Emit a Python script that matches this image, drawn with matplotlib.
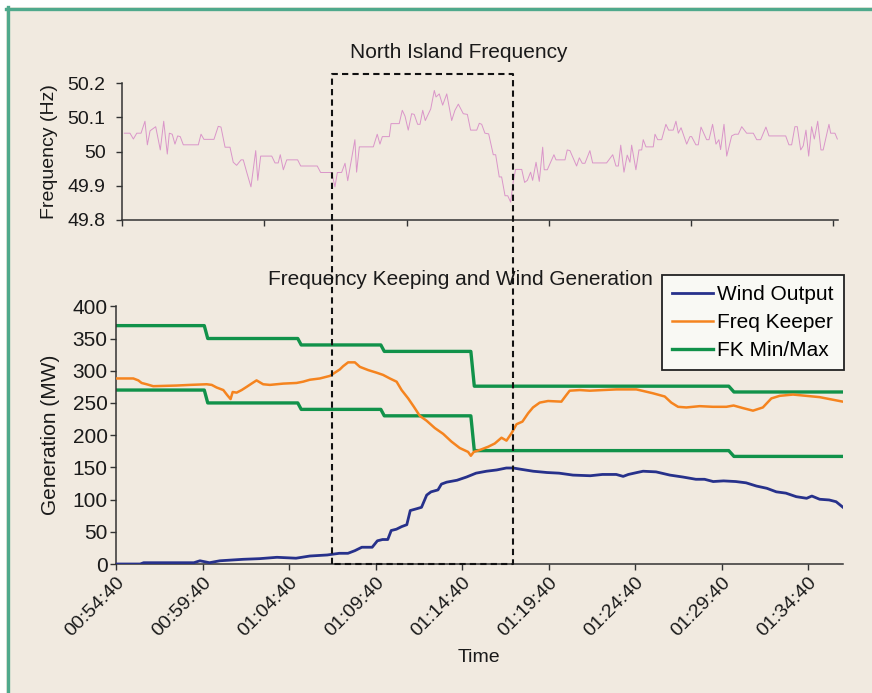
import numpy as np
import matplotlib
matplotlib.use("Agg")
import matplotlib.pyplot as plt
from matplotlib.lines import Line2D
from matplotlib.patches import Rectangle

plt.rcParams['font.family'] = ['Liberation Sans', 'DejaVu Sans']

# time axis: minutes after 00:54:40
time_labels = ["00:54:40", "00:59:40", "01:04:40", "01:09:40", "01:14:40",
               "01:19:40", "01:24:40", "01:29:40", "01:34:40"]

# North Island frequency (Hz)
freq_t = [0.12, 0.45, 0.65, 0.85, 1.10, 1.33, 1.47, 1.63, 1.96, 2.23, 2.43, 2.64, 2.76, 2.93,
          3.09, 3.25, 3.40, 3.58, 4.46, 4.62, 4.79, 5.38, 5.63, 5.79, 6.03, 6.32, 6.51, 6.71,
          6.97, 7.10, 7.30, 7.55, 7.83, 7.95, 8.12, 8.77, 8.96, 9.15, 9.27, 9.45, 9.65, 10.29,
          10.47, 11.44, 11.64, 12.29, 12.48, 12.62, 12.87, 13.07, 13.23, 13.65, 13.75, 13.91,
          14.73, 14.96, 15.12, 15.26, 15.67, 15.77, 16.25, 16.43, 16.59, 16.78, 16.98, 17.13,
          17.33, 17.47, 17.63, 17.78, 18.10, 18.31, 18.41, 18.60, 18.80, 19.04, 19.33, 19.52,
          19.72, 20.01, 20.25, 20.44, 20.80, 20.95, 21.09, 21.28, 21.50, 21.77, 21.91, 22.12,
          22.26, 22.46, 22.62, 22.79, 22.94, 23.08, 23.44, 23.61, 23.77, 23.96, 24.08, 24.28,
          24.47, 24.67, 24.76, 24.94, 25.33, 25.45, 25.98, 26.11, 26.27, 26.66, 26.82, 26.99,
          27.15, 27.44, 27.60, 28.42, 28.78, 28.97, 29.11, 29.25, 29.44, 29.63, 29.79, 29.89,
          30.14, 30.32, 30.48, 30.57, 30.73, 31.16, 31.26, 31.42, 31.65, 31.90, 32.06, 32.33,
          32.49, 32.63, 32.79, 33.12, 33.31, 33.41, 33.66, 33.80, 33.96, 34.29, 34.43, 34.64,
          34.84, 35.01, 35.11, 35.31, 35.47, 35.76, 35.95, 36.15, 36.35, 36.64, 37.03, 37.23,
          37.46, 37.77, 37.95, 38.93, 39.12, 39.28, 39.47, 39.61, 39.81, 39.96, 40.12, 40.28,
          40.45, 40.61, 40.81, 41.00, 41.13, 41.47, 41.57, 41.82, 41.96]
freq_hz = [50.054, 50.054, 50.037, 50.054, 50.054, 50.089, 50.020, 50.061, 50.073, 50.005,
           50.089, 49.993, 50.054, 50.051, 50.022, 50.046, 50.044, 50.020, 50.020, 50.051,
           50.036, 50.036, 50.074, 50.072, 50.013, 50.013, 49.969, 49.960, 49.976, 49.976,
           49.940, 49.897, 50.003, 49.916, 49.987, 49.987, 49.967, 49.967, 49.991, 49.947,
           49.976, 49.976, 49.958, 49.958, 49.939, 49.939, 49.897, 49.939, 49.939, 49.966,
           49.915, 50.035, 49.940, 50.014, 50.014, 50.051, 50.022, 50.044, 50.044, 50.082,
           50.082, 50.121, 50.104, 50.063, 50.111, 50.109, 50.080, 50.080, 50.121, 50.091,
           50.125, 50.179, 50.160, 50.169, 50.136, 50.169, 50.091, 50.121, 50.139, 50.111,
           50.109, 50.063, 50.063, 50.083, 50.080, 50.054, 50.052, 49.991, 49.991, 49.926,
           49.926, 49.871, 49.871, 49.852, 49.912, 49.948, 49.948, 49.910, 49.916, 49.940,
           49.916, 49.969, 49.913, 50.013, 49.947, 49.947, 49.991, 49.976, 49.976, 50.005,
           50.003, 49.958, 49.982, 49.966, 49.966, 50.003, 49.967, 49.967, 49.991, 49.958,
           49.958, 50.019, 49.940, 49.990, 49.969, 50.019, 49.947, 50.005, 50.005, 50.035,
           50.014, 50.014, 50.051, 50.035, 50.035, 50.080, 50.063, 50.063, 50.089, 50.054,
           50.070, 50.022, 50.044, 50.044, 50.020, 50.020, 50.072, 50.035, 50.035, 50.080,
           50.022, 50.035, 50.006, 50.080, 49.987, 50.046, 50.051, 50.051, 50.073, 50.054,
           50.054, 50.035, 50.035, 50.072, 50.046, 50.046, 50.020, 50.020, 50.073, 50.073,
           50.005, 50.017, 50.063, 49.987, 50.073, 50.037, 50.089, 50.005, 50.005, 50.080,
           50.054, 50.054, 50.037]

# Wind output (MW)
wind_t = [0.0, 1.4, 1.6, 4.5, 4.85, 5.4, 6.0, 7.35, 8.3, 9.3, 10.4, 11.2, 12.2, 12.9, 13.4,
          13.8, 14.2, 14.8, 15.1, 15.4, 15.7, 15.9, 16.2, 16.5, 16.8, 17.0, 17.4, 17.65, 17.95,
          18.2, 18.6, 18.8, 19.1, 19.7, 20.25, 20.8, 21.4, 22.0, 22.55, 22.95, 23.4, 24.1,
          24.9, 25.6, 26.4, 27.4, 28.1, 28.9, 29.3, 29.6, 30.1, 30.45, 31.2, 32.0, 32.75,
          33.5, 34.0, 34.5, 35.1, 35.8, 36.4, 37.0, 37.6, 38.15, 38.7, 39.3, 39.9, 40.2,
          40.65, 41.2, 41.6, 42.0]
wind_mw = [0, 0, 2, 2, 5, 2, 5, 7.3, 8.3, 10.4, 9, 12.4, 14, 16.6, 16.6, 20.7, 26, 26, 36,
           38, 38, 52, 54, 58, 61, 83, 86, 88, 107, 112, 115, 124, 127, 130, 135, 141, 144,
           146, 149, 149, 147, 144, 142, 141, 138, 137, 139, 139, 136, 139, 142, 144, 143,
           138, 135, 131.5, 131.5, 128, 129, 128, 126, 121, 117.5, 112, 110, 104.5, 102,
           105.5, 100.5, 99.4, 96.7, 88]

# Frequency keeper generation (MW)
fk_t = [0.0, 1.0, 1.29, 1.48, 1.77, 2.15, 3.5, 4.27, 5.24, 5.53, 5.81, 6.2, 6.43, 6.62,
        6.74, 6.97, 7.26, 7.55, 7.83, 8.12, 8.5, 8.89, 9.66, 10.43, 10.81, 11.2, 11.78,
        12.36, 12.93, 13.12, 13.41, 13.8, 14.09, 14.57, 15.05, 15.43, 15.82, 16.21, 16.5,
        16.88, 17.21, 17.55, 17.94, 18.42, 18.9, 19.38, 19.86, 20.34, 20.5, 20.67, 21.02,
        21.5, 21.88, 22.27, 22.56, 22.85, 23.14, 23.48, 23.81, 24.09, 24.48, 24.96, 25.73,
        25.98, 26.21, 26.79, 27.37, 28.13, 28.91, 30.06, 30.45, 31.02, 31.7, 32.08, 32.47,
        32.95, 33.72, 34.49, 35.26, 35.68, 36.22, 36.8, 37.37, 37.86, 38.34, 39.11, 39.88,
        40.65, 41.22, 41.99]
fk_mw = [288, 288, 285, 281, 279, 276, 277, 278, 279, 278, 274, 270, 262, 256, 267, 266,
         270, 275, 280, 285, 279, 278, 280, 281, 283, 286, 288, 292, 302, 307, 313, 313,
         306, 301, 297, 293.5, 288, 283, 270, 257, 244, 230, 222.5, 211, 202, 190, 180,
         174, 168, 174, 177, 182, 187, 196, 191.5, 203, 217, 221, 234, 243, 250.5, 253,
         252, 261, 269, 270, 269, 270, 271, 271, 268.6, 265, 260, 250.5, 244, 243, 245,
         244, 244, 246, 242, 238, 243, 257, 261, 263, 261, 259, 256, 252]

# FK min / max band (MW)
band_t = [0.0, 5.1, 5.3, 10.5, 10.7, 15.3, 15.5, 20.5, 20.7, 35.4, 35.7, 42.0]
band_min = [270, 270, 250, 250, 240, 240, 230, 230, 176, 176, 167, 167]
band_max = [370, 370, 350, 350, 340, 340, 330, 330, 276, 276, 267, 267]

# highlighted window (minutes) and its top (Hz)
window_t = [12.49, 22.94]
window_top = 50.2285

W, H = 872, 693
fig = plt.figure(figsize=(W / 100, H / 100), dpi=100, facecolor='white')

bg = '#F1EAE0'
teal = '#4FA98C'
fig.add_artist(Rectangle((6 / W, 0), 1, 1 - 7 / H, transform=fig.transFigure,
                         facecolor=bg, edgecolor='none', zorder=-10))
fig.add_artist(Line2D([7.5 / W, 7.5 / W], [0, 1 - 7 / H], transform=fig.transFigure,
                      color=teal, lw=2.4, zorder=-5))
fig.add_artist(Line2D([6 / W, 1], [1 - 8.5 / H, 1 - 8.5 / H], transform=fig.transFigure,
                      color=teal, lw=2.4, zorder=-5))

axis_col = '#333333'
text_col = '#1a1a1a'


def style(ax):
    ax.set_facecolor('none')
    for s in ['top', 'right']:
        ax.spines[s].set_visible(False)
    for s in ['left', 'bottom']:
        ax.spines[s].set_color(axis_col)
        ax.spines[s].set_linewidth(1.1)
    ax.tick_params(direction='out', length=4, width=1.0, color=axis_col,
                   labelcolor=text_col)


# top panel: frequency
ax1 = fig.add_axes([122.3 / W, 1 - 220 / H, (838 - 122.3) / W, (220 - 83.3) / H])
style(ax1)
ax1.plot(freq_t, freq_hz, color='#DA95C9', lw=0.7)
ax1.set_xlim(0, 42)
ax1.set_ylim(49.8, 50.2)
ax1.set_yticks([49.8, 49.9, 50.0, 50.1, 50.2])
ax1.set_yticklabels(['49.8', '49.9', '50', '50.1', '50.2'])
ax1.set_xticks(np.linspace(0, 41.72, 6))
ax1.set_xticklabels([])
ax1.tick_params(axis='y', labelsize=14, pad=8)
ax1.set_ylabel('Frequency (Hz)', fontsize=14, color=text_col)
ax1.yaxis.set_label_coords(-0.09, 0.5)

# bottom panel: generation
ax2 = fig.add_axes([116 / W, 1 - 564 / H, (843 - 116) / W, (564 - 306.3) / H])
style(ax2)
ax2.plot(band_t, band_min, color='#11924A', lw=2.4, label='FK Min/Max', zorder=2)
ax2.plot(band_t, band_max, color='#11924A', lw=2.4, label='_nolegend_', zorder=2)
ax2.plot(fk_t, fk_mw, color='#F5841F', lw=1.8, label='Freq Keeper', zorder=3)
ax2.plot(wind_t, wind_mw, color='#27318B', lw=2.0, label='Wind Output', zorder=4)
ax2.set_xlim(0, 42)
ax2.set_ylim(0, 400)
ax2.set_yticks(range(0, 401, 50))
ax2.set_xticks(np.arange(len(time_labels)) * 5)
ax2.set_xticklabels(time_labels, rotation=45, ha='right', rotation_mode='anchor')
ax2.tick_params(axis='y', labelsize=15, pad=2)
ax2.tick_params(axis='x', labelsize=14, pad=3)
ax2.set_ylabel('Generation (MW)', fontsize=15, color=text_col)
ax2.yaxis.set_label_coords(-0.077, 0.5)
ax2.set_xlabel('Time', fontsize=14, color=text_col)
ax2.xaxis.set_label_coords((479 - 116) / (843 - 116), -(649 - 564) / (564 - 306.3))

h, l = ax2.get_legend_handles_labels()
order = [l.index('Wind Output'), l.index('Freq Keeper'), l.index('FK Min/Max')]
leg = ax2.legend([h[i] for i in order], [l[i] for i in order], loc='upper left',
                 bbox_to_anchor=(662 / W, 1 - 275 / H), bbox_transform=fig.transFigure,
                 borderaxespad=0, fontsize=15, frameon=True, fancybox=False,
                 edgecolor='#222222', facecolor='#F9F9F4', framealpha=1,
                 handlelength=1.95, handletextpad=0.2, labelspacing=0.42,
                 borderpad=0.5)
leg.get_frame().set_linewidth(1.3)

fig.text(459 / W, 1 - 52 / H, 'North Island Frequency', fontsize=15,
         color=text_col, ha='center', va='center')
fig.text(460 / W, 1 - 280 / H, 'Frequency Keeping and Wind Generation', fontsize=15,
         color=text_col, ha='center', va='center')

# dashed window spanning both panels
inv = fig.transFigure.inverted()
x0, yb = inv.transform(ax2.transData.transform((window_t[0], 0)))
x1, _ = inv.transform(ax2.transData.transform((window_t[1], 0)))
_, yt = inv.transform(ax1.transData.transform((0, window_top)))
fig.add_artist(Line2D([x0, x0, x1, x1, x0], [yb, yt, yt, yb, yb], transform=fig.transFigure,
                      color='#111111', lw=1.5, linestyle=(0, (3, 2)), zorder=10))

fig.savefig('out.png', dpi=100, facecolor=fig.get_facecolor())
